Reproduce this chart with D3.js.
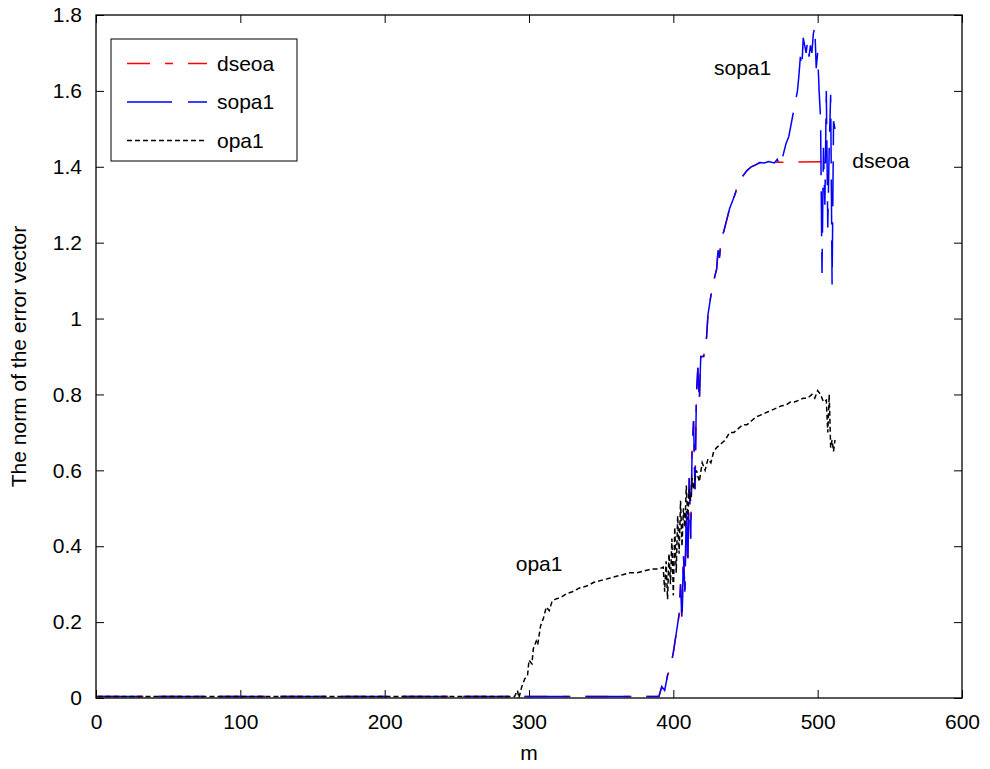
<!DOCTYPE html>
<html>
<head>
<meta charset="utf-8">
<script src="https://cdn.jsdelivr.net/npm/d3@7"></script>
<style>
  body { margin: 0; background: #fff; }
  text { font-family: "Liberation Sans", Arial, sans-serif; fill: #000; }
</style>
</head>
<body>
<svg id="chart"></svg>
<script>
// series data: [m, norm]
var dseoa = [
  [1, 0.004], [390, 0.004], [392, 0.03], [394, 0.02], [396, 0.06], [398, 0.08], [400, 0.12],
  [402, 0.17], [404, 0.22], [405, 0.3], [406, 0.2], [407, 0.38], [408, 0.28], [409, 0.5],
  [410, 0.35], [411, 0.58], [412, 0.42], [413, 0.65], [414, 0.73], [415, 0.55], [416, 0.8],
  [417, 0.87], [418, 0.78], [419, 0.9], [421, 0.9], [423, 0.95], [424, 1.01], [426, 1.06],
  [428, 1.1], [430, 1.13], [431, 1.18], [432, 1.16], [433, 1.21], [435, 1.23], [437, 1.26],
  [439, 1.29], [441, 1.31], [443, 1.33], [445, 1.36], [447, 1.37], [449, 1.38], [451, 1.39],
  [454, 1.40], [457, 1.405], [460, 1.411], [512, 1.414]
];

var sopa1 = [
  [1, 0.004], [390, 0.004], [392, 0.03], [394, 0.02], [396, 0.06], [398, 0.08], [400, 0.12],
  [402, 0.17], [404, 0.22], [405, 0.3], [406, 0.2], [407, 0.38], [408, 0.28], [409, 0.5],
  [410, 0.35], [411, 0.58], [412, 0.42], [413, 0.65], [414, 0.73], [415, 0.55], [416, 0.8],
  [417, 0.87], [418, 0.78], [419, 0.9], [421, 0.9], [423, 0.95], [424, 1.01], [426, 1.06],
  [428, 1.1], [430, 1.13], [431, 1.18], [432, 1.16], [433, 1.21], [435, 1.23], [437, 1.26],
  [439, 1.29], [441, 1.31], [443, 1.33], [445, 1.36], [447, 1.37], [449, 1.38], [451, 1.39],
  [454, 1.40], [457, 1.405], [460, 1.411], [463, 1.41], [466, 1.414], [470, 1.41], [472, 1.42],
  [474, 1.40], [476, 1.43], [478, 1.46], [480, 1.48], [482, 1.52], [484, 1.56], [486, 1.60],
  [487, 1.64], [488, 1.69], [489, 1.66], [490, 1.74], [491, 1.72], [492, 1.70], [493, 1.73],
  [494, 1.69], [495, 1.72], [496, 1.70], [497, 1.75], [498, 1.77], [499, 1.66], [500, 1.70],
  [501, 1.60], [502, 1.53], [503, 1.12], [504, 1.45], [505, 1.30], [506, 1.60], [507, 1.24],
  [508, 1.45], [509, 1.59], [510, 1.09], [511, 1.52], [512, 1.50]
];

var opa1 = [
  [1, 0.004], [290, 0.004], [292, 0.02], [293, 0.0], [295, 0.03], [297, 0.05], [299, 0.06],
  [300, 0.1], [302, 0.09], [303, 0.13], [305, 0.15], [306, 0.14], [308, 0.19], [310, 0.21],
  [312, 0.24], [314, 0.23], [316, 0.255], [318, 0.26], [322, 0.265], [326, 0.275], [330, 0.28],
  [335, 0.29], [340, 0.295], [345, 0.305], [350, 0.31], [355, 0.315], [360, 0.32], [365, 0.325],
  [370, 0.33], [375, 0.33], [380, 0.335], [385, 0.34], [390, 0.34], [393, 0.345], [394, 0.28],
  [395, 0.36], [396, 0.26], [397, 0.38], [398, 0.3], [399, 0.42], [400, 0.27], [401, 0.45],
  [402, 0.33], [403, 0.48], [404, 0.38], [405, 0.52], [406, 0.4], [407, 0.5], [408, 0.45],
  [409, 0.56], [410, 0.47], [411, 0.55], [412, 0.52], [413, 0.58], [414, 0.55], [416, 0.6],
  [418, 0.57], [420, 0.62], [422, 0.6], [424, 0.63], [426, 0.62], [428, 0.65], [430, 0.66],
  [433, 0.67], [436, 0.68], [439, 0.70], [442, 0.70], [445, 0.71], [448, 0.72], [451, 0.72],
  [454, 0.73], [457, 0.74], [460, 0.745], [463, 0.75], [466, 0.755], [469, 0.76], [472, 0.765],
  [475, 0.77], [478, 0.772], [481, 0.78], [484, 0.78], [487, 0.785], [490, 0.79], [493, 0.79],
  [496, 0.80], [498, 0.79], [500, 0.81], [502, 0.80], [504, 0.78], [506, 0.785], [507, 0.70],
  [508, 0.80], [509, 0.66], [510, 0.68], [511, 0.65], [512, 0.68]
];

var seriesNames = ["dseoa", "sopa1", "opa1"];
var xTicks = [0, 100, 200, 300, 400, 500, 600];
var yTicks = [0, 0.2, 0.4, 0.6, 0.8, 1, 1.2, 1.4, 1.6, 1.8];

// in-plot labels: [name, m, norm]
var notes = [["sopa1", 448, 1.66], ["dseoa", 524, 1.415], ["opa1", 307, 0.355]];

var W = 990, H = 769;
var margin = { top: 15, right: 28, bottom: 71, left: 96 };
var width = W - margin.left - margin.right;
var height = H - margin.top - margin.bottom;

var svg = d3.select("#chart").attr("width", W).attr("height", H);
var g = svg.append("g")
    .attr("transform", "translate(" + margin.left + "," + margin.top + ")");

var xScale = d3.scaleLinear().domain([0, 600]).range([0, width]);
var yScale = d3.scaleLinear().domain([0, 1.8]).range([height, 0]);

var styles = {
  dseoa: { color: "#ff0000", dash: "23,15,8,15" },
  sopa1: { color: "#0000ff", dash: "45,16" },
  opa1:  { color: "#000000", dash: "5,3" }
};
var seriesData = { dseoa: dseoa, sopa1: sopa1, opa1: opa1 };

// axes box, ticks inside on all sides
var fmt = function(d){ return d3.format("~g")(d); };
var tickLen = 8;

g.append("g")
    .attr("transform", "translate(0," + height + ")")
    .call(d3.axisBottom(xScale).tickValues(xTicks).tickFormat(fmt).tickSizeInner(-tickLen).tickSizeOuter(0).tickPadding(16))
    .call(function(a){ a.select(".domain").remove(); });
g.append("g")
    .call(d3.axisTop(xScale).tickValues(xTicks).tickFormat("").tickSizeInner(-tickLen).tickSizeOuter(0))
    .call(function(a){ a.select(".domain").remove(); });
g.append("g")
    .call(d3.axisLeft(yScale).tickValues(yTicks).tickFormat(fmt).tickSizeInner(-tickLen).tickSizeOuter(0).tickPadding(14))
    .call(function(a){ a.select(".domain").remove(); });
g.append("g")
    .attr("transform", "translate(" + width + ",0)")
    .call(d3.axisRight(yScale).tickValues(yTicks).tickFormat("").tickSizeInner(-tickLen).tickSizeOuter(0))
    .call(function(a){ a.select(".domain").remove(); });

g.selectAll(".tick line").attr("stroke", "#000");
g.selectAll(".tick text").attr("font-size", 21).attr("font-family", "Liberation Sans, Arial, sans-serif");

// lines
var line = d3.line()
    .x(function(d){ return xScale(d[0]); })
    .y(function(d){ return yScale(d[1]); });

seriesNames.forEach(function(name){
  g.append("path")
      .attr("d", line(seriesData[name]))
      .attr("fill", "none")
      .attr("stroke", styles[name].color)
      .attr("stroke-width", 1.5)
      .attr("stroke-dasharray", styles[name].dash);
});

g.append("rect")
    .attr("width", width)
    .attr("height", height)
    .attr("fill", "none")
    .attr("stroke", "#000")
    .attr("stroke-width", 1.3);

// in-plot labels
g.selectAll(".note").data(notes).enter().append("text")
    .attr("class", "note")
    .attr("x", function(d){ return xScale(d[1]); })
    .attr("y", function(d){ return yScale(d[2]); })
    .attr("dy", "0.35em")
    .attr("text-anchor", function(d){ return d[0] === "dseoa" ? "start" : "middle"; })
    .attr("font-size", 21)
    .text(function(d){ return d[0]; });

// axis titles
g.append("text")
    .attr("x", width / 2)
    .attr("y", height + 62)
    .attr("text-anchor", "middle")
    .attr("font-size", 21)
    .text("m");

g.append("text")
    .attr("transform", "rotate(-90)")
    .attr("x", -height / 2)
    .attr("y", -70)
    .attr("text-anchor", "middle")
    .attr("font-size", 21)
    .text("The norm of the error vector");

// legend
var legend = g.append("g").attr("transform", "translate(15,24)");
legend.append("rect")
    .attr("width", 186)
    .attr("height", 122)
    .attr("fill", "#fff")
    .attr("stroke", "#000")
    .attr("stroke-width", 1);

seriesNames.forEach(function(name, i){
  var y = 24.5 + i * 38.5;
  legend.append("line")
      .attr("x1", 16).attr("x2", 96)
      .attr("y1", y).attr("y2", y)
      .attr("stroke", styles[name].color)
      .attr("stroke-width", 1.5)
      .attr("stroke-dasharray", styles[name].dash);
  legend.append("text")
      .attr("x", 106)
      .attr("y", y)
      .attr("dy", "0.35em")
      .attr("font-size", 21)
      .text(name);
});
</script>
</body>
</html>
